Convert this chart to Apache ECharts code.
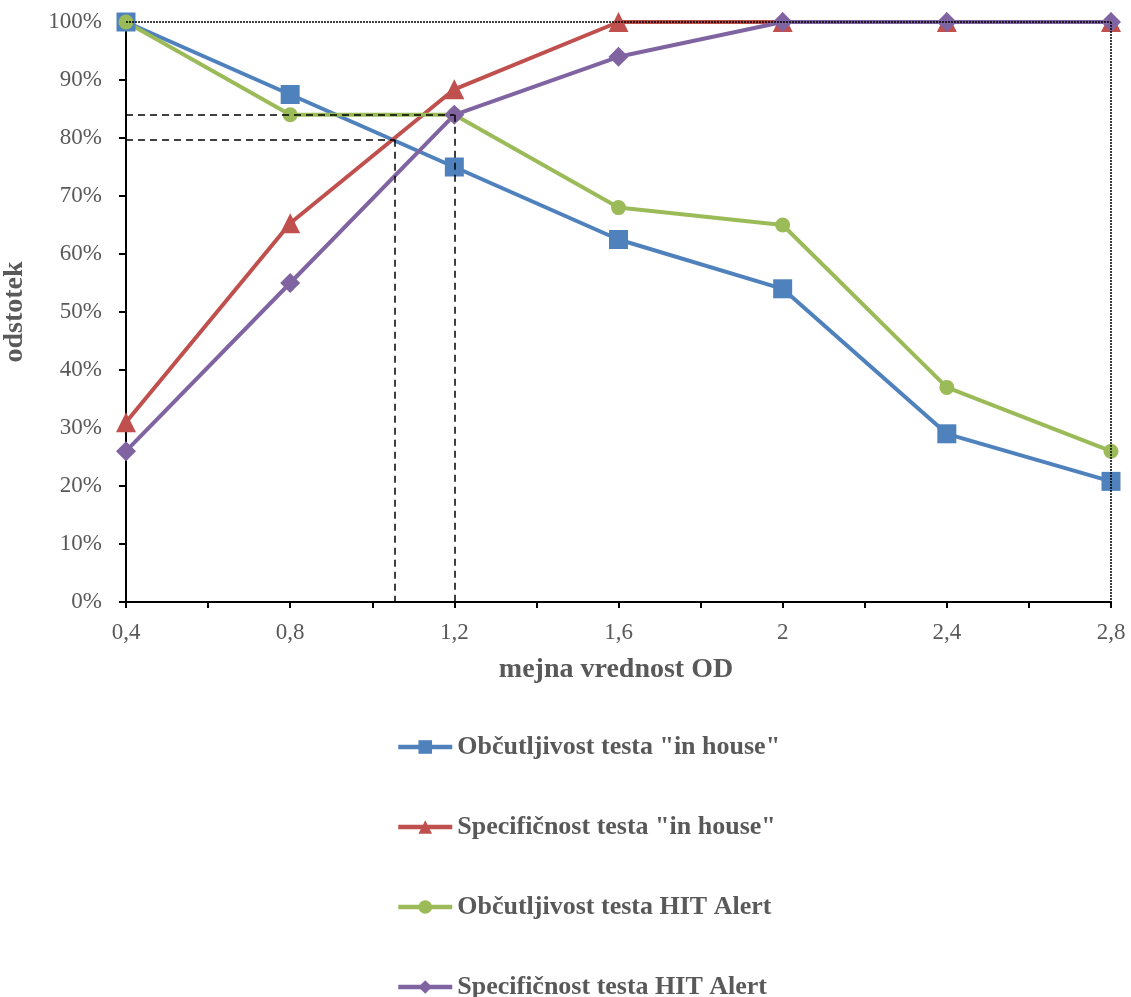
<!DOCTYPE html>
<html>
<head>
<meta charset="utf-8">
<script src="https://cdn.jsdelivr.net/npm/echarts@6/dist/echarts.min.js"></script>
<style>
  html, body { margin: 0; padding: 0; background: #fff; }
  #chart { width: 1131px; height: 997px; }
</style>
</head>
<body>
<div id="chart"></div>
<script>
// mejna vrednost OD
const xValues = [0.4, 0.8, 1.2, 1.6, 2.0, 2.4, 2.8];

const obcInHouse = [100, 87.5, 75, 62.5, 54, 29, 20.8];
const specInHouse = [31, 65.3, 88.4, 100, 100, 100, 100];
const obcHit = [100, 84, 84, 68, 65, 37, 26];
const specHit = [26, 55, 84, 94, 100, 100, 100];

const seriesNames = [
  'Občutljivost testa "in house"',
  'Specifičnost testa "in house"',
  'Občutljivost testa HIT Alert',
  'Specifičnost testa HIT Alert'
];

// pomožne črte (presečišča)
const cutA = { x: 1.2, y: 84 };
const cutB = { x: 1.055, y: 79.7 };

const font = 'Liberation Serif, Times New Roman, serif';
const grey = '#595959';

const pairs = arr => xValues.map((x, i) => [x, arr[i]]);

const chart = echarts.init(document.getElementById('chart'));

function lineSeries(name, data, color, symbol, size) {
  return {
    name,
    type: 'line',
    data: pairs(data),
    symbol,
    symbolSize: size,
    showAllSymbol: true,
    lineStyle: { color, width: 4 },
    itemStyle: { color },
    z: 3
  };
}

const dashed = { color: '#000', type: [7, 5], width: 1.5 };
const dotted = { color: '#000', type: [2, 1], width: 1.5 };

const refSeries = {
  name: 'ref',
  type: 'line',
  data: [],
  silent: true,
  z: 2,
  markLine: {
    silent: true,
    symbol: ['none', 'none'],
    label: { show: false },
    animation: false,
    data: [
      [{ coord: [0.4, 100], lineStyle: dotted }, { coord: [2.8, 100] }],
      [{ coord: [2.8, 100], lineStyle: dotted }, { coord: [2.8, 0] }],
      [{ coord: [0.4, cutA.y], lineStyle: dashed }, { coord: [cutA.x, cutA.y] }],
      [{ coord: [cutA.x, cutA.y], lineStyle: dashed }, { coord: [cutA.x, 0] }],
      [{ coord: [0.4, cutB.y], lineStyle: dashed }, { coord: [cutB.x, cutB.y] }],
      [{ coord: [cutB.x, cutB.y], lineStyle: dashed }, { coord: [cutB.x, 0] }]
    ]
  }
};

// naslova osi
const axisTitle = (text, x, y, rotation) => ({
  type: 'text',
  x, y, rotation,
  style: {
    text,
    font: 'bold 28px ' + font,
    fill: grey,
    align: 'center',
    verticalAlign: 'middle'
  }
});

chart.setOption({
  animation: false,
  textStyle: { fontFamily: font },
  grid: { left: 126, right: 20, top: 22, bottom: 395, outerBoundsMode: 'none' },
  graphic: [
    axisTitle('mejna vrednost OD', 616, 670, 0),
    axisTitle('odstotek', 15, 312, Math.PI / 2)
  ],
  xAxis: {
    type: 'value',
    min: 0.4,
    max: 2.8,
    interval: 0.4,
    axisLine: { lineStyle: { color: '#000', width: 2 } },
    axisTick: { show: true, length: 6, lineStyle: { color: '#000', width: 2 } },
    minorTick: { show: true, splitNumber: 2, length: 6, lineStyle: { color: '#000', width: 2 } },
    splitLine: { show: false },
    axisLabel: {
      margin: 19,
      fontFamily: font,
      fontSize: 23,
      color: grey,
      formatter: v => String(Math.round(v * 10) / 10).replace('.', ',')
    }
  },
  yAxis: {
    type: 'value',
    min: 0,
    max: 100,
    interval: 10,
    axisLine: { show: true, lineStyle: { color: '#000', width: 2 } },
    axisTick: { show: true, length: 7, lineStyle: { color: '#000', width: 2 } },
    splitLine: { show: false },
    axisLabel: {
      margin: 24,
      fontFamily: font,
      fontSize: 23,
      color: grey,
      formatter: '{value}%'
    }
  },
  legend: {
    orient: 'vertical',
    left: 396,
    top: 734,
    height: 320,
    padding: 0,
    itemGap: 54,
    itemWidth: 54,
    itemHeight: 17,
    data: seriesNames,
    lineStyle: { width: 4.5 },
    textStyle: { fontFamily: font, fontSize: 26, fontWeight: 'bold', color: grey }
  },
  series: [
    refSeries,
    lineSeries(seriesNames[0], obcInHouse, '#4F81BD', 'rect', 19),
    lineSeries(seriesNames[1], specInHouse, '#C0504D', 'triangle', 20),
    lineSeries(seriesNames[2], obcHit, '#9BBB59', 'circle', 15),
    lineSeries(seriesNames[3], specHit, '#8064A2', 'diamond', 20)
  ]
});
</script>
</body>
</html>
